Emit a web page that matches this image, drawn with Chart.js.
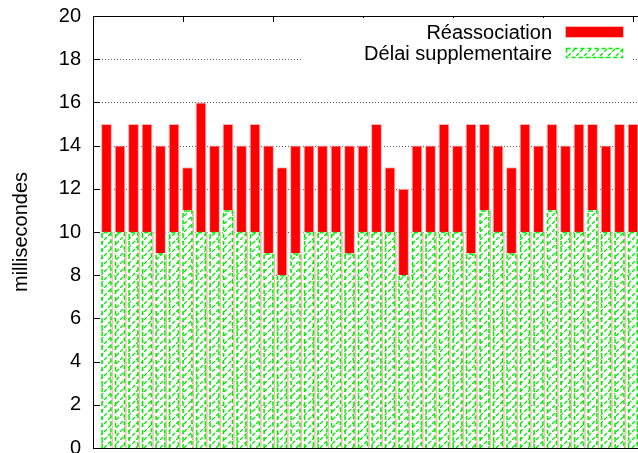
<!DOCTYPE html>
<html>
<head>
<meta charset="utf-8">
<script src="https://cdn.jsdelivr.net/npm/chart.js@4/dist/chart.umd.min.js"></script>
<style>
  html, body { margin: 0; padding: 0; background: #fff; overflow: hidden; }
  #wrap { width: 700px; height: 453px; }
</style>
</head>
<body>
<div id="wrap"><canvas id="c" width="700" height="453"></canvas></div>
<script>
// ---- data ----
const positions = [1,2,3,4,5,6,7,8,9,10,11,12,13,14,15,16,17,18,19,20,21,22,23,24,25,26,27,28,29,30,31,32,33,34,35,36,37,38,39,40];
const delaiSupplementaire = [10,10,10,10,9,10,11,10,10,11,10,10,9,8,9,10,10,10,9,10,10,10,8,10,10,10,10,9,11,10,9,10,10,11,10,10,11,10,10,10];
const reassociation = [5,4,5,5,5,5,2,6,4,4,4,5,5,5,5,4,4,4,5,4,5,3,4,4,4,5,4,6,4,4,4,5,4,4,4,5,4,4,5,5];
const seriesLabels = ['Délai supplementaire', 'Réassociation'];
const yTickValues = [0,2,4,6,8,10,12,14,16,18,20];
const yTitle = 'millisecondes';
const xMin = 0, xMax = 44, xTickStep = 20/3;

const FONT = '"Liberation Sans", Arial, sans-serif';
const GREEN = '#00ee00';
const RED = '#ff0000';

// hatch pattern for the green series
function makeHatch() {
  const t = document.createElement('canvas');
  t.width = 8; t.height = 8;
  const g = t.getContext('2d');
  g.fillStyle = '#ffffff';
  g.fillRect(0, 0, 8, 8);
  g.strokeStyle = GREEN;
  g.lineWidth = 1.3;
  g.setLineDash([4, 2]);
  g.beginPath();
  g.moveTo(0, 8); g.lineTo(8, 0);
  g.stroke();
  return document.getElementById('c').getContext('2d').createPattern(t, 'repeat');
}
const hatch = makeHatch();

const gnuplotDecor = {
  id: 'gnuplotDecor',
  beforeDatasetsDraw(chart) {
    const ctx = chart.ctx, a = chart.chartArea, ys = chart.scales.y;
    ctx.save();
    ctx.strokeStyle = 'rgba(60,60,60,0.85)';
    ctx.lineWidth = 1;
    ctx.setLineDash([1, 2]);
    yTickValues.forEach(v => {
      if (v === yTickValues[0] || v === yTickValues[yTickValues.length - 1]) return;
      const y = Math.round(ys.getPixelForValue(v)) + 0.5;
      ctx.beginPath(); ctx.moveTo(a.left, y); ctx.lineTo(a.right, y); ctx.stroke();
    });
    ctx.restore();
  },
  afterDatasetsDraw(chart) {
    const ctx = chart.ctx;
    const meta = chart.getDatasetMeta(0);
    ctx.save();
    meta.data.forEach(el => {
      const p = el.getProps(['x', 'y', 'base', 'width'], true);
      const l = p.x - p.width / 2, r = p.x + p.width / 2;
      // pinkish right edge
      ctx.setLineDash([]);
      ctx.strokeStyle = '#ffb4b4';
      ctx.lineWidth = 1.5;
      ctx.beginPath(); ctx.moveTo(r + 0.5, p.y); ctx.lineTo(r + 0.5, p.base); ctx.stroke();
      // dashed green outline
      ctx.strokeStyle = GREEN;
      ctx.lineWidth = 1.5;
      ctx.setLineDash([4, 3]);
      ctx.beginPath();
      ctx.moveTo(l + 1, p.base); ctx.lineTo(l + 1, p.y + 0.5); ctx.lineTo(r - 1, p.y + 0.5); ctx.lineTo(r - 1, p.base);
      ctx.stroke();
    });
    ctx.restore();
  },
  afterDraw(chart) {
    const ctx = chart.ctx, a = chart.chartArea;
    const xs = chart.scales.x, ys = chart.scales.y;
    ctx.save();
    ctx.strokeStyle = '#000';
    ctx.lineWidth = 1;
    ctx.setLineDash([]);
    ctx.strokeRect(Math.round(a.left) + 0.5, Math.round(a.top) + 0.5, Math.round(a.right - a.left), Math.round(a.bottom - a.top));
    // inward y ticks
    yTickValues.forEach(v => {
      const y = Math.round(ys.getPixelForValue(v)) + 0.5;
      ctx.beginPath(); ctx.moveTo(a.left, y); ctx.lineTo(a.left + 7, y); ctx.stroke();
    });
    // inward top x ticks
    for (let v = xMin + xTickStep; v < xMax; v += xTickStep) {
      const x = Math.round(xs.getPixelForValue(v)) + 0.5;
      ctx.beginPath(); ctx.moveTo(x, a.top); ctx.lineTo(x, a.top + 6); ctx.stroke();
    }
    // legend (inside, top right)
    ctx.fillStyle = '#fff';
    ctx.fillRect(302, a.top + 2, 329, 47);
    ctx.font = '20px ' + FONT;
    ctx.textAlign = 'right';
    ctx.textBaseline = 'middle';
    ctx.fillStyle = '#000';
    const order = [1, 0];
    order.forEach((di, row) => {
      const cy = 32 + row * 21;
      ctx.fillText(chart.data.datasets[di].label, 552, cy + 1);
      if (di === 1) {
        ctx.fillStyle = RED;
        ctx.fillRect(566, cy - 5, 57, 10);
        ctx.strokeStyle = '#ffb4b4';
        ctx.strokeRect(565.5, cy - 5.5, 58, 11);
      } else {
        ctx.fillStyle = hatch;
        ctx.fillRect(566, cy - 5, 57, 10);
        ctx.strokeStyle = GREEN;
        ctx.lineWidth = 1.5;
        ctx.setLineDash([4, 3]);
        ctx.strokeRect(566.5, cy - 4.5, 56, 9);
        ctx.setLineDash([]);
        ctx.lineWidth = 1;
      }
      ctx.fillStyle = '#000';
    });
    ctx.restore();
  }
};

new Chart(document.getElementById('c'), {
  type: 'bar',
  data: {
    datasets: [
      {
        label: seriesLabels[0],
        data: positions.map((x, i) => ({ x: x, y: delaiSupplementaire[i] })),
        backgroundColor: hatch,
        borderWidth: 0,
        barPercentage: 0.8,
        categoryPercentage: 1
      },
      {
        label: seriesLabels[1],
        data: positions.map((x, i) => ({ x: x, y: reassociation[i] })),
        backgroundColor: RED,
        borderColor: '#ffb4b4',
        borderWidth: 1,
        barPercentage: 0.8,
        categoryPercentage: 1
      }
    ]
  },
  options: {
    responsive: false,
    animation: false,
    devicePixelRatio: 1,
    layout: { padding: { top: 16, bottom: 5, left: 0, right: 13 } },
    plugins: { legend: { display: false }, tooltip: { enabled: false } },
    scales: {
      x: {
        type: 'linear', min: xMin, max: xMax, stacked: true, display: false, offset: false
      },
      y: {
        stacked: true, min: 0, max: 20,
        afterFit(scale) { scale.width = 93; scale.paddingTop = 0; scale.paddingBottom = 0; },
        afterBuildTicks(scale) { scale.ticks = yTickValues.map(v => ({ value: v })); },
        grid: { display: false, drawTicks: false },
        border: { display: false },
        ticks: { padding: 12, color: '#000', font: { family: FONT, size: 20 } },
        title: { display: true, text: yTitle, color: '#000', font: { family: FONT, size: 20 }, padding: { top: 9, bottom: 0 } }
      }
    }
  },
  plugins: [gnuplotDecor]
});
</script>
</body>
</html>
